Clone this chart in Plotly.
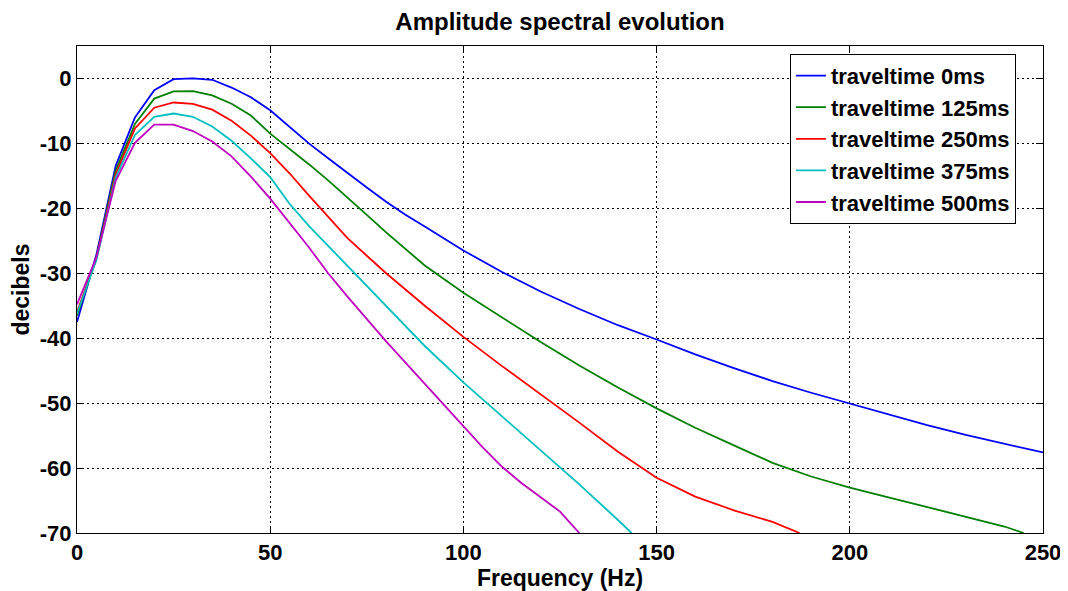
import plotly.graph_objects as go

# ---- data ----
freq_0 = [0, 5, 10, 15, 20, 25, 30, 35, 40, 45, 50, 55, 60, 65, 70, 75, 80, 85, 90, 100, 110, 120, 130, 140, 150,
          160, 170, 180, 190, 200, 210, 220, 230, 240, 250]
db_0 = [-37.5, -27.2, -13.5, -6.0, -1.8, -0.1, 0.0, -0.2, -1.4, -2.9, -4.9, -7.4, -10.0, -12.3, -14.6, -16.8, -19.0,
        -21.0, -22.8, -26.5, -29.8, -32.8, -35.5, -38.0, -40.2, -42.5, -44.6, -46.6, -48.4, -50.1, -51.8, -53.4,
        -54.9, -56.3, -57.6]

freq_125 = [0, 5, 10, 15, 20, 25, 30, 35, 40, 45, 50, 55, 60, 65, 70, 75, 80, 85, 90, 100, 110, 120, 130, 140, 150,
            160, 170, 180, 190, 200, 210, 220, 230, 240, 245]
db_125 = [-36.5, -27.6, -14.2, -7.0, -3.1, -2.0, -1.95, -2.6, -3.9, -5.7, -8.5, -10.8, -13.2, -15.7, -18.3, -21.0,
          -23.7, -26.3, -28.8, -33.0, -36.8, -40.6, -44.2, -47.6, -50.8, -53.8, -56.5, -59.2, -61.3, -63.0, -64.5,
          -66.0, -67.5, -69.0, -70.0]

freq_250 = [0, 5, 10, 15, 20, 25, 30, 35, 40, 45, 50, 55, 60, 65, 70, 75, 80, 90, 100, 110, 120, 130, 140, 150,
            160, 170, 180, 187]
db_250 = [-36.0, -27.8, -14.8, -7.7, -4.5, -3.7, -3.9, -4.8, -6.5, -8.8, -11.5, -14.6, -18.0, -21.3, -24.6, -27.3,
          -30.0, -35.0, -39.8, -44.3, -48.6, -53.0, -57.5, -61.5, -64.4, -66.5, -68.3, -70.0]

freq_375 = [0, 5, 10, 15, 20, 25, 30, 35, 40, 45, 50, 55, 60, 65, 70, 75, 80, 90, 100, 110, 120, 125, 130, 140,
            143.5]
db_375 = [-36.2, -28.0, -15.3, -8.7, -5.9, -5.4, -5.9, -7.4, -9.6, -12.3, -15.2, -19.3, -22.7, -25.8, -28.9, -31.9,
          -35.0, -41.2, -46.8, -52.0, -57.3, -59.8, -62.5, -68.0, -70.0]

freq_500 = [0, 5, 10, 15, 20, 25, 30, 35, 40, 45, 50, 55, 60, 65, 70, 80, 90, 100, 105, 110, 115, 120, 125, 130]
db_500 = [-34.8, -27.6, -15.8, -9.9, -7.1, -7.1, -8.1, -9.7, -12.0, -15.1, -18.5, -22.2, -26.0, -30.0, -33.6, -40.5,
          -47.0, -53.6, -56.8, -59.8, -62.3, -64.5, -66.7, -70.0]

series_names = ["traveltime 0ms", "traveltime 125ms", "traveltime 250ms", "traveltime 375ms", "traveltime 500ms"]
series_freqs = [freq_0, freq_125, freq_250, freq_375, freq_500]
series_dbs = [db_0, db_125, db_250, db_375, db_500]
series_colors = ["#0000FF", "#008000", "#FF0000", "#00BFBF", "#BF00BF"]

x_ticks = [0, 50, 100, 150, 200, 250]
y_ticks = [0, -10, -20, -30, -40, -50, -60, -70]

FONT = "Liberation Sans, Arial, sans-serif"

# the page body has an 8px margin, so the figure is 8px smaller on each side
W, H = 1060, 583

fig = go.Figure()
for name, fx, fy, col in zip(series_names, series_freqs, series_dbs, series_colors):
    fig.add_trace(go.Scatter(x=fx, y=fy, mode="lines", name=f"<b>{name}</b>",
                             line=dict(color=col, width=1.8)))

axis_common = dict(
    showline=True, linecolor="black", linewidth=1, mirror="allticks",
    ticks="inside", ticklen=7, tickcolor="black", tickwidth=1,
    showgrid=True, gridcolor="black", gridwidth=1, griddash="2px,3px",
    zeroline=False, automargin=False,
    tickfont=dict(family=FONT, size=22, color="black"),
)

fig.update_xaxes(range=[0, 250], tickvals=x_ticks, ticktext=[f"<b>{v}</b>" for v in x_ticks],
                 title=dict(text="<b>Frequency (Hz)</b>", font=dict(family=FONT, size=23, color="black"), standoff=0),
                 **axis_common)
fig.update_yaxes(range=[-70, 5], tickvals=y_ticks, ticktext=[f"<b>{v}</b>" for v in y_ticks],
                 title=dict(text="<b>decibels</b>", font=dict(family=FONT, size=23, color="black"), standoff=4),
                 **axis_common)

fig.update_layout(
    width=W, height=H,
    margin=dict(l=69, r=25, t=38, b=58),
    paper_bgcolor="white", plot_bgcolor="white",
    title=dict(text="<b>Amplitude spectral evolution</b>", x=0.5, xref="paper", xanchor="center",
               y=1 - 14 / H, yanchor="middle", font=dict(family=FONT, size=24, color="black")),
    legend=dict(x=0.738, y=0.984, xanchor="left", yanchor="top", bgcolor="white",
                bordercolor="black", borderwidth=1, font=dict(family=FONT, size=22, color="black"),
                tracegroupgap=0, itemwidth=30),
    showlegend=True,
)

fig.write_html("out.html")
